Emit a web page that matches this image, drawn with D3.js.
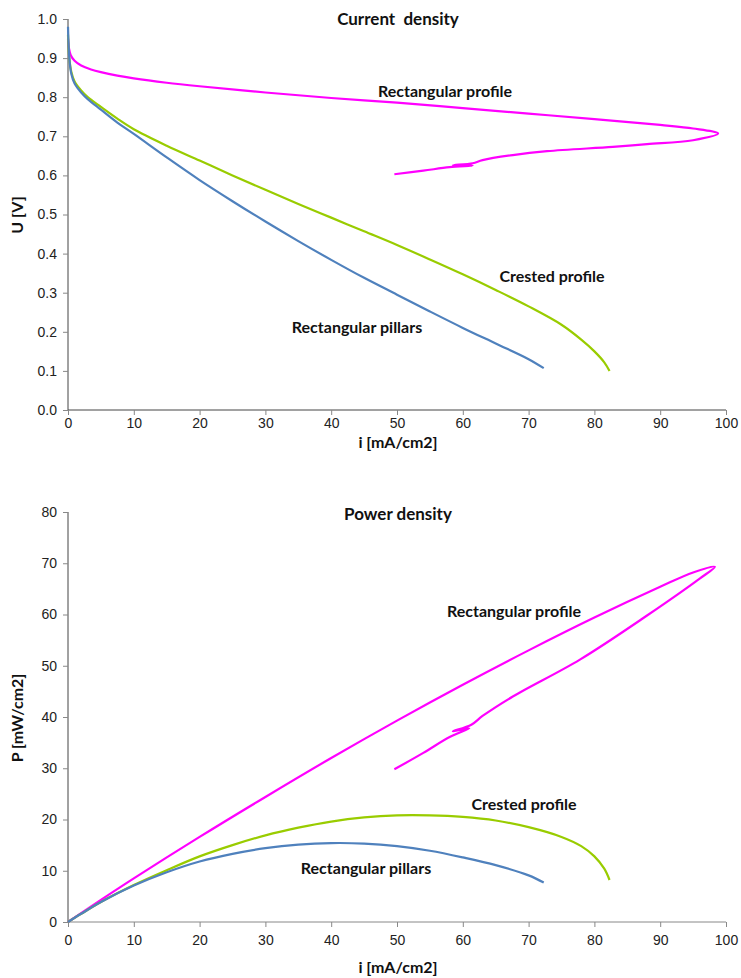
<!doctype html>
<html>
  <head>
    <meta charset="utf-8">
    <script src="https://cdn.jsdelivr.net/npm/d3@7/dist/d3.min.js"></script>
    <style>
      body { margin: 0; background: #fff; }
      .tick text { font-family: "Liberation Sans", Arial, sans-serif; font-size: 14px; fill: #222; }
      .lbl { font-family: Lato, "Open Sans", sans-serif; font-weight: bold; font-size: 16px; fill: #111; white-space: pre; }
      .title { font-size: 17px; }
    </style>
  </head>
  <body>
    <svg width="741" height="978"></svg>
    <script>
      // tick values
      const iTicks = [0, 10, 20, 30, 40, 50, 60, 70, 80, 90, 100];
      const uTicks = [0, 0.1, 0.2, 0.3, 0.4, 0.5, 0.6, 0.7, 0.8, 0.9, 1.0];
      const pTicks = [0, 10, 20, 30, 40, 50, 60, 70, 80];

      // current density curves: [i, U]
      const uPillars = [[0, 0.98], [0.2, 0.9], [0.5, 0.86], [1, 0.835], [2, 0.812], [3, 0.795], [5, 0.768],
        [7.5, 0.735], [10, 0.706], [15, 0.646], [20, 0.588], [25, 0.534], [30, 0.482], [35, 0.432],
        [40, 0.384], [45, 0.338], [50, 0.295], [55, 0.252], [60, 0.21], [65, 0.17], [70, 0.13], [72.3, 0.107]];
      const uCrested = [[0, 0.96], [0.2, 0.9], [0.5, 0.865], [1, 0.84], [2, 0.817], [3, 0.8], [5, 0.775],
        [7.5, 0.745], [10, 0.718], [15, 0.676], [20, 0.638], [25, 0.6], [30, 0.563], [35, 0.527],
        [40, 0.492], [45, 0.457], [50, 0.422], [55, 0.385], [60, 0.347], [65, 0.307], [70, 0.265],
        [75, 0.218], [78, 0.18], [80, 0.15], [81.5, 0.122], [82.3, 0.1]];
      const uProfile = [[0, 0.95], [0.15, 0.925], [0.4, 0.908], [1, 0.893], [2, 0.881], [3.5, 0.871],
        [5, 0.864], [7.5, 0.855], [10, 0.848], [15, 0.837], [20, 0.828], [30, 0.812], [40, 0.798],
        [50, 0.786], [60, 0.772], [70, 0.758], [80, 0.744], [90, 0.729], [95, 0.72], [98.8, 0.707],
        [95, 0.69], [88, 0.68], [82.8, 0.673], [72.8, 0.662], [67.6, 0.652], [63, 0.639], [61.5, 0.631],
        [58.5, 0.626], [61.5, 0.625], [58, 0.621], [54, 0.612], [49.6, 0.603]];

      // power density curves: [i, P]
      const pPillars = [[0, 0], [2, 1.6], [5, 3.9], [10, 7.1], [15, 9.7], [20, 11.8], [25, 13.3], [30, 14.4],
        [35, 15.1], [40, 15.4], [45, 15.3], [50, 14.8], [55, 13.9], [60, 12.6], [65, 11.1], [70, 9.1], [72.3, 7.7]];
      const pCrested = [[0, 0], [2, 1.6], [5, 3.9], [10, 7.2], [15, 10.1], [20, 12.8], [25, 15.0], [30, 16.9],
        [35, 18.4], [40, 19.6], [45, 20.4], [50, 20.8], [55, 20.8], [60, 20.5], [65, 19.8], [70, 18.5],
        [75, 16.6], [78, 14.8], [80, 12.8], [81.5, 10.4], [82.3, 8.2]];
      const pProfile = [[0, 0], [5, 4.3], [10, 8.5], [20, 16.6], [30, 24.4], [40, 32.0], [50, 39.3],
        [60, 46.3], [70, 53.0], [80, 59.4], [90, 65.4], [95, 68.2], [98.3, 69.3], [96, 67.0],
        [88, 59.8], [77.8, 51.2], [67.6, 44.0], [63, 40.2], [61.3, 38.5], [58.5, 37.2], [61, 37.8],
        [58, 36.1], [54, 33.0], [49.6, 29.8]];

      const colors = { profile: "#ff00ff", crested: "#99cc00", pillars: "#4f81bd" };

      const svg = d3.select("svg");

      function drawChart(cfg) {
        const x = d3.scaleLinear().domain([0, 100]).range([68, 726]);
        const y = d3.scaleLinear().domain(cfg.yDomain).range([cfg.bottom, cfg.top]);
        const g = svg.append("g");

        const yAxis = g.append("g")
          .attr("transform", "translate(68,0)")
          .call(d3.axisLeft(y).tickValues(cfg.yTicks).tickFormat(cfg.yFormat).tickSize(5).tickPadding(6));
        yAxis.select(".domain").attr("stroke", "#444").attr("d", "M0," + cfg.top + "V" + cfg.bottom);
        yAxis.selectAll(".tick line").attr("stroke", "#888");

        const xAxis = g.append("g")
          .attr("transform", "translate(0," + cfg.bottom + ")")
          .call(d3.axisBottom(x).tickValues(iTicks).tickFormat(d3.format("d")).tickSize(5).tickPadding(cfg.xPad));
        xAxis.select(".domain").attr("stroke", cfg.xLineColor).attr("d", "M68,0H726");
        xAxis.selectAll(".tick line").attr("stroke", "#888");

        const line = d3.line()
          .x(d => x(d[0]))
          .y(d => y(d[1]))
          .curve(d3.curveCatmullRom.alpha(0.5));

        cfg.series.forEach(s => {
          g.append("path")
            .datum(s.data)
            .attr("d", line)
            .attr("fill", "none")
            .attr("stroke", s.color)
            .attr("stroke-width", 2.2)
            .attr("stroke-linejoin", "round");
        });

        g.append("text").attr("class", "lbl title")
          .attr("x", 398).attr("y", cfg.titleY)
          .attr("text-anchor", "middle")
          .text(cfg.title);

        cfg.labels.forEach(l => {
          g.append("text").attr("class", "lbl")
            .attr("x", l.x).attr("y", l.y)
            .attr("text-anchor", "middle")
            .text(l.text);
        });

        g.append("text").attr("class", "lbl")
          .attr("transform", "translate(23," + cfg.yLabelY + ") rotate(-90)")
          .attr("text-anchor", "middle")
          .text(cfg.yLabel);
      }

      drawChart({
        top: 19, bottom: 410, yDomain: [0, 1], yTicks: uTicks, yFormat: d3.format(".1f"),
        xLineColor: "#444", xPad: 3, yLabel: "U [V]", yLabelY: 215,
        title: "Current  density", titleY: 25,
        series: [
          { data: uProfile, color: colors.profile },
          { data: uCrested, color: colors.crested },
          { data: uPillars, color: colors.pillars }
        ],
        labels: [
          { text: "Rectangular profile", x: 445, y: 97 },
          { text: "Crested profile", x: 552, y: 282 },
          { text: "Rectangular pillars", x: 357, y: 333 },
          { text: "i [mA/cm2]", x: 398, y: 448 }
        ]
      });

      drawChart({
        top: 512, bottom: 922, yDomain: [0, 80], yTicks: pTicks, yFormat: d3.format("d"),
        xLineColor: "#888", xPad: 8, yLabel: "P [mW/cm2]", yLabelY: 718,
        title: "Power density", titleY: 520,
        series: [
          { data: pProfile, color: colors.profile },
          { data: pCrested, color: colors.crested },
          { data: pPillars, color: colors.pillars }
        ],
        labels: [
          { text: "Rectangular profile", x: 514, y: 617 },
          { text: "Crested profile", x: 524, y: 810 },
          { text: "Rectangular pillars", x: 366, y: 874 },
          { text: "i [mA/cm2]", x: 398, y: 973 }
        ]
      });
    </script>
  </body>
</html>
